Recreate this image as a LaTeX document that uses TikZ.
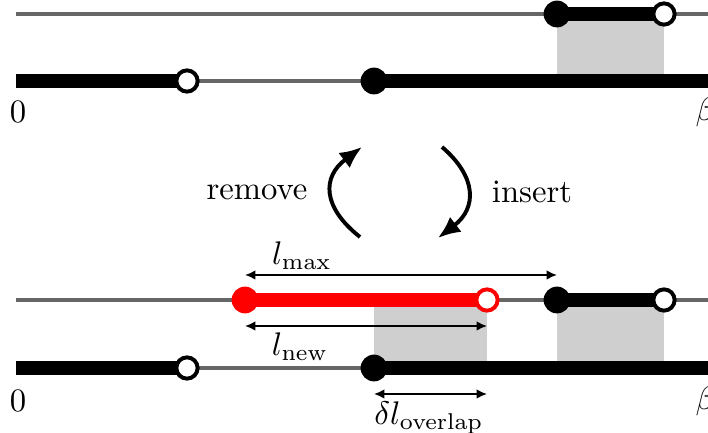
\documentclass[tikz,border=0pt]{standalone}
\usetikzlibrary{arrows.meta}
\pgfdeclarelayer{bg}
\pgfsetlayers{bg,main}
\begin{document}
\begin{tikzpicture}[x=0.306pt,y=-0.306pt,
 glin/.style={line width=1.2pt, draw=black!60},
 thk/.style={line width=4.3pt, draw=#1},
 thk/.default=black,
 fdot/.style={circle, fill=#1, minimum size=8.2pt, inner sep=0pt, outer sep=0pt},
 fdot/.default=black,
 odot/.style={circle, draw=#1, fill=white, line width=1.2pt, minimum size=6.5pt, inner sep=0pt},
 odot/.default=black,
 shade box/.style={fill=black!19, draw=none},
 dim/.style={{Latex[length=3.2pt,width=3pt]}-{Latex[length=3.2pt,width=3pt]}, line width=0.6pt},
 cyc/.style={-{Latex[length=6.8pt,width=5.8pt]}, line width=1.2pt},
 lbl/.style={inner sep=0pt}
]
\useasboundingbox (0,0) rectangle (708,433);
\clip (0,0) rectangle (708,433);

% ---------- top panel ----------
\coordinate (tU0) at (16,14);  \coordinate (tUE) at (720,14);
\coordinate (tL0) at (16,81);  \coordinate (tLE) at (720,81);
\node[odot] (tA1) at (187,81) {};
\node[fdot] (tA2) at (374,81) {};
\node[fdot] (tA3) at (557,14) {};
\node[odot] (tA4) at (664,14) {};
\begin{pgfonlayer}{bg}
  \fill[shade box] (tA3.center) rectangle (tA4.center |- tL0);
  \draw[glin] (tU0) -- (tUE);
  \draw[glin] (tL0) -- (tLE);
  \draw[thk] (tL0) -- (tA1.center);
  \draw[thk] (tA2.center) -- (tLE);
  \draw[thk] (tA3.center) -- (tA4.center);
\end{pgfonlayer}
\node[lbl] (tzero) at (18,112) {$0$};
\node[lbl, anchor=west] (tbeta) at (695,112) {$\beta$};

% ---------- cycle arrows ----------
\coordinate (rmA) at (360,237); \coordinate (rmB) at (362,147);
\coordinate (inA) at (442,147); \coordinate (inB) at (438,238);
\draw[cyc] (rmA) .. controls (322,207) and (322,177) .. (rmB);
\draw[cyc] (inA) .. controls (477,177) and (477,208) .. (inB);
\node[lbl] (remove) at (257,192) {remove};
\node[lbl] (insert) at (532,192) {insert};

% ---------- bottom panel ----------
\coordinate (bU0) at (16,300);  \coordinate (bUE) at (720,300);
\coordinate (bL0) at (16,368);  \coordinate (bLE) at (720,368);
\node[odot] (bA1) at (187,368) {};
\node[fdot] (bA2) at (374,368) {};
\node[fdot] (bA3) at (557,300) {};
\node[odot] (bA4) at (664,300) {};
\node[fdot=red] (bR1) at (245,300) {};
\node[odot=red] (bR2) at (487,300) {};
\begin{pgfonlayer}{bg}
  \fill[shade box] (bA2.center) rectangle (bR2.center);
  \fill[shade box] (bA3.center) rectangle (bA4.center |- bL0);
  \draw[glin] (bU0) -- (bUE);
  \draw[glin] (bL0) -- (bLE);
  \draw[thk] (bL0) -- (bA1.center);
  \draw[thk] (bA2.center) -- (bLE);
  \draw[thk] (bA3.center) -- (bA4.center);
  \draw[thk=red] (bR1.center) -- (bR2.center);
\end{pgfonlayer}
\node[lbl] (bzero) at (18,401) {$0$};
\node[lbl, anchor=west] (bbeta) at (695,401) {$\beta$};

% dimension arrows
\coordinate (lmaxA) at (245,275); \coordinate (lmaxB) at (557,275);
\coordinate (lnewA) at (245,326); \coordinate (lnewB) at (487,326);
\coordinate (ovA) at (374,394);   \coordinate (ovB) at (487,394);
\draw[dim] (lmaxA) -- (lmaxB);
\draw[dim] (lnewA) -- (lnewB);
\draw[dim] (ovA) -- (ovB);
\node[lbl] (lmax) at (302,256) {$l_{\max}$};
\node[lbl] (lnew) at (300,347) {$l_{\mathrm{new}}$};
\node[lbl] (lov) at (429,418) {$\delta l_{\mathrm{overlap}}$};
\end{tikzpicture}
\end{document}
